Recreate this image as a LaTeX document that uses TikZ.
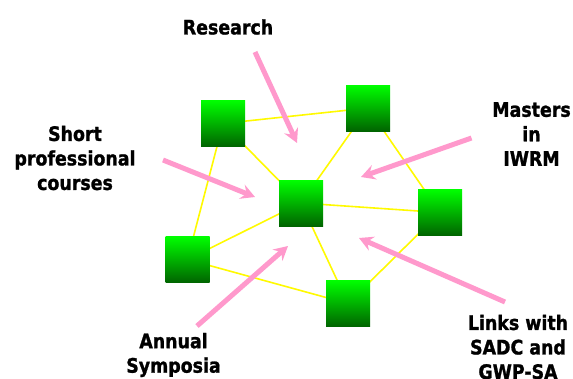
\documentclass[tikz,border=0pt]{standalone}
\usepackage{fontspec}
\setmainfont{DejaVu Sans}[FakeStretch=0.87,BoldFeatures={FakeBold=1.2}]
\usepackage{tikz}
\usepackage{xcolor}
\usetikzlibrary{arrows.meta}
\definecolor{linkyellow}{RGB}{255,250,0}
\definecolor{arrowpink}{RGB}{255,153,204}
\definecolor{boxtop}{RGB}{0,255,0}
\definecolor{boxbottom}{RGB}{0,100,0}
\tikzset{hub/.style={rectangle,minimum width=44pt,minimum height=46pt,inner sep=0pt,
   top color=boxtop,bottom color=boxbottom,draw=none},
 link/.style={draw=linkyellow,line width=1.6pt},
 pointer/.style={draw=arrowpink,line width=5pt,
   -{Stealth[length=14pt,width=15pt,inset=5pt]}},
 label/.style={font=\fontsize{20}{24.5}\selectfont\bfseries,align=center},
 }

\begin{document}
\begin{tikzpicture}[x=1pt,y=-1pt]
        \useasboundingbox (0,0) rectangle (573,378);
        \fill[white] (0,0) rectangle (573,378);
        \clip (0,0) rectangle (573,378);
        \coordinate (ha) at (223,123.5);
        \coordinate (hb) at (368,108);
        \coordinate (hc) at (301,203);
        \coordinate (hd) at (440,212.5);
        \coordinate (he) at (187.5,259.5);
        \coordinate (hf) at (348,303.5);
        \draw[link] (ha) -- (hb);
        \draw[link] (ha) -- (hc);
        \draw[link] (ha) -- (he);
        \draw[link] (hb) -- (hc);
        \draw[link] (hb) -- (hd);
        \draw[link] (hc) -- (hd);
        \draw[link] (hc) -- (he);
        \draw[link] (hc) -- (hf);
        \draw[link] (he) -- (hf);
        \draw[link] (hd) -- (hf);
        \node[hub] (a) at (ha) {};
        \node[hub] (b) at (hb) {};
        \node[hub] (c) at (hc) {};
        \node[hub] (d) at (hd) {};
        \node[hub] (e) at (he) {};
        \node[hub] (f) at (hf) {};
        \node[label] (research) at (228,27) {Research};
        \node[label] (short) at (75,158) {Short\\professional\\courses};
        \node[label] (masters) at (531.5,134) {Masters\\in\\IWRM};
        \node[label] (annual) at (173.5,355) {Annual\\Symposia};
        \node[label] (links) at (518,347) {Links with\\SADC and\\GWP-SA};
        \coordinate (rs) at (255,52);
        \coordinate (rt) at (297,143);
        \coordinate (ss) at (163,160);
        \coordinate (st) at (255,197);
        \coordinate (ms) at (471.5,138);
        \coordinate (mt) at (361,177);
        \coordinate (as) at (197,326);
        \coordinate (at) at (288,246);
        \coordinate (ls) at (505,302);
        \coordinate (lt) at (359,238);
        \draw[pointer] (rs) -- (rt);
        \draw[pointer] (ss) -- (st);
        \draw[pointer] (ms) -- (mt);
        \draw[pointer] (as) -- (at);
        \draw[pointer] (ls) -- (lt);
    \end{tikzpicture}
\end{document}
